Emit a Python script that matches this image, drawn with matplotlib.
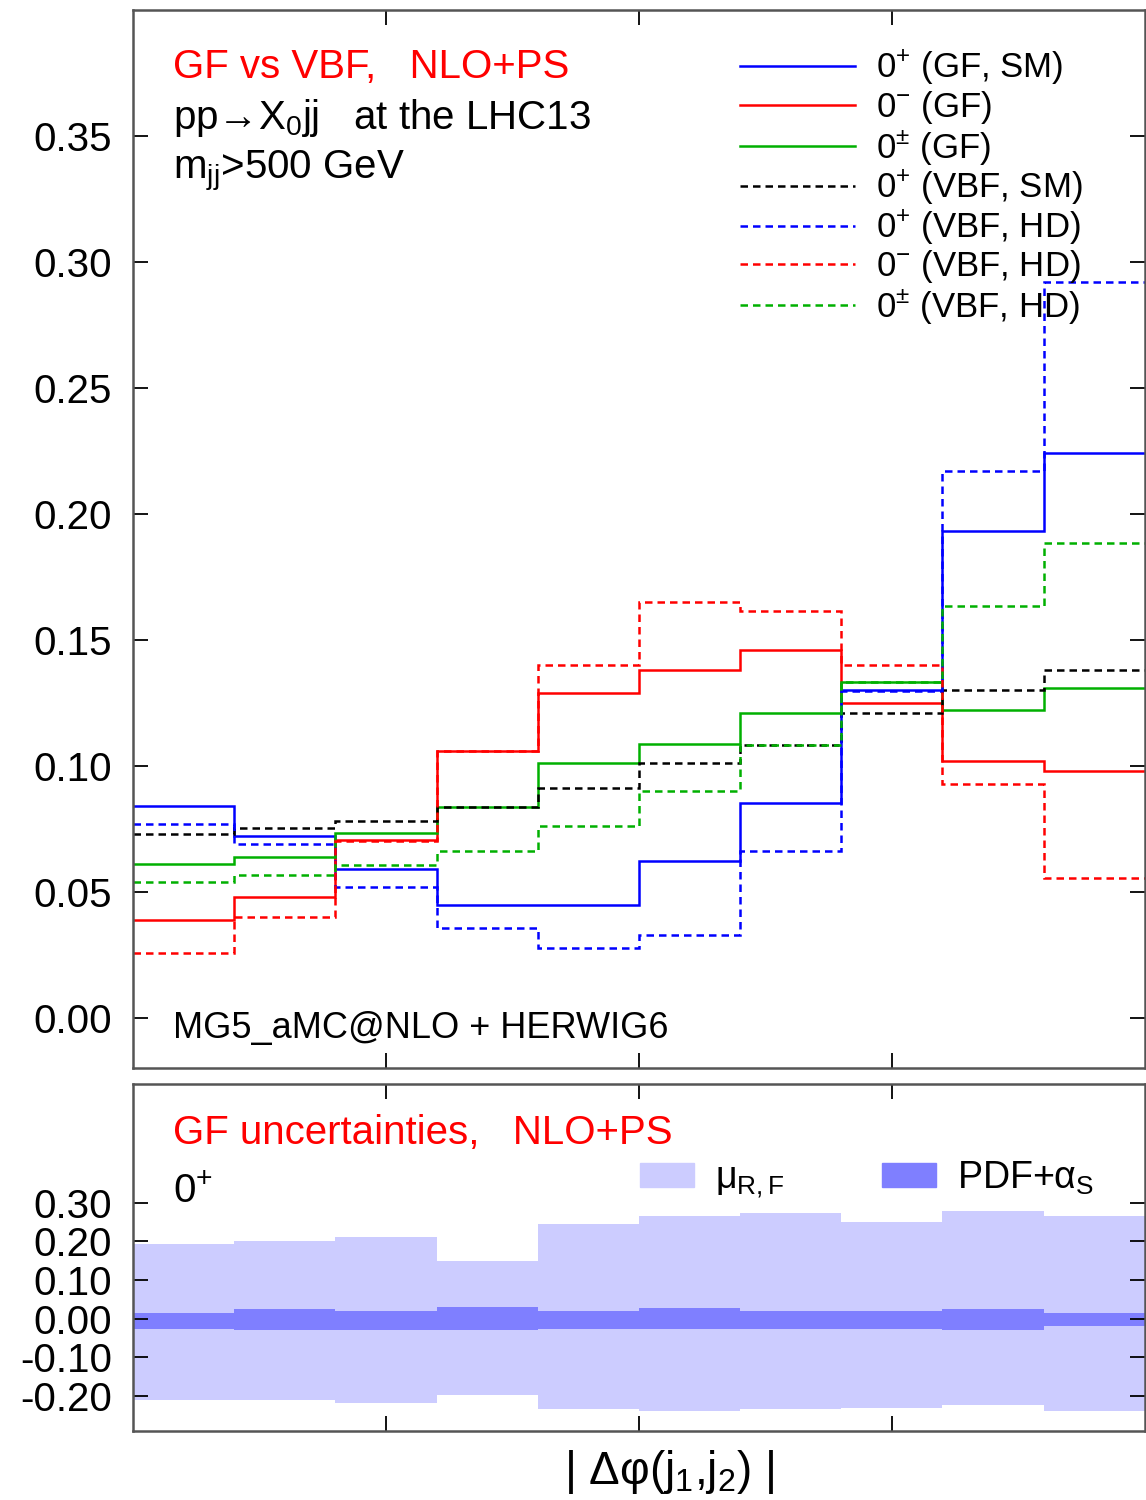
import numpy as np
import matplotlib
matplotlib.use("Agg")
import matplotlib.pyplot as plt
from matplotlib.lines import Line2D
from matplotlib.patches import Patch

plt.rcParams['font.family'] = ['Liberation Sans', 'DejaVu Sans']
plt.rcParams['mathtext.fontset'] = 'custom'
plt.rcParams['mathtext.rm'] = 'Liberation Sans'
plt.rcParams['mathtext.it'] = 'Liberation Sans:italic'
plt.rcParams['mathtext.bf'] = 'Liberation Sans:bold'

# 10 bins in |dphi(j1,j2)| from 0 to pi
edges = np.linspace(0, np.pi, 11)

# top panel: normalised distributions
gf_sm    = [0.084, 0.072, 0.059, 0.0445, 0.0445, 0.062, 0.085, 0.130, 0.193, 0.224]
gf_odd   = [0.0386, 0.048, 0.0704, 0.106, 0.129, 0.138, 0.146, 0.125, 0.102, 0.098]
gf_mix   = [0.061, 0.0636, 0.0731, 0.0837, 0.101, 0.1086, 0.121, 0.133, 0.122, 0.131]
vbf_sm   = [0.073, 0.0752, 0.078, 0.0835, 0.091, 0.101, 0.108, 0.121, 0.130, 0.138]
vbf_hd_p = [0.077, 0.069, 0.052, 0.0354, 0.0275, 0.0326, 0.066, 0.1297, 0.217, 0.292]
vbf_hd_m = [0.0255, 0.040, 0.070, 0.106, 0.140, 0.165, 0.1615, 0.140, 0.0927, 0.0553]
vbf_hd_x = [0.054, 0.0565, 0.0605, 0.066, 0.076, 0.090, 0.108, 0.1332, 0.1635, 0.1885]

# bottom panel: GF 0+ relative uncertainties
scale_up = [0.194, 0.201, 0.211, 0.148, 0.244, 0.265, 0.272, 0.250, 0.278, 0.265]
scale_dn = [-0.211, -0.211, -0.218, -0.198, -0.233, -0.239, -0.233, -0.231, -0.224, -0.239]
pdf_up   = [0.0155, 0.025, 0.020, 0.031, 0.020, 0.027, 0.020, 0.020, 0.025, 0.0155]
pdf_dn   = [-0.026, -0.030, -0.030, -0.030, -0.026, -0.026, -0.026, -0.026, -0.030, -0.019]

blue, red, green = '#0000ff', '#ff0000', '#00b000'
FS = 29

fig = plt.figure(figsize=(11.46, 15), dpi=100)
ax = fig.add_axes([0.116, 0.288, 0.883, 0.7055])
ax2 = fig.add_axes([0.116, 0.046, 0.883, 0.2313])

lw = 1.8
dash = (3, 2)
series = [
    (gf_sm, blue, '-', r'$0^{+}$ (GF, SM)'),
    (gf_odd, red, '-', r'$0^{-}$ (GF)'),
    (gf_mix, green, '-', r'$0^{\pm}$ (GF)'),
    (vbf_sm, 'black', '--', r'$0^{+}$ (VBF, SM)'),
    (vbf_hd_p, blue, '--', r'$0^{+}$ (VBF, HD)'),
    (vbf_hd_m, red, '--', r'$0^{-}$ (VBF, HD)'),
    (vbf_hd_x, green, '--', r'$0^{\pm}$ (VBF, HD)'),
]
handles = []
for vals, c, ls, lab in series:
    st = ax.stairs(vals, edges, baseline=None, color=c, linewidth=lw)
    if ls == '--':
        st.set_linestyle((0, dash))
    h = Line2D([], [], color=c, linewidth=lw,
               linestyle='-' if ls == '-' else (0, dash))
    handles.append((h, lab))

ax.legend([h for h, _ in handles], [l for _, l in handles], loc='upper left',
          bbox_to_anchor=(0.600, 0.963), frameon=False, fontsize=25,
          borderpad=0, borderaxespad=0,
          handlelength=3.3, handletextpad=0.6, labelspacing=0.05)

ax.set_xlim(0, np.pi)
ax.set_ylim(-0.02, 0.40)
ax.set_yticks(np.arange(0, 0.36, 0.05))
ax.set_yticklabels(['%.2f' % v for v in np.arange(0, 0.36, 0.05)])

ax.text(0.04, 0.946, 'GF vs VBF,   NLO+PS', color=red, fontsize=FS,
        transform=ax.transAxes, va='center')
ax.text(0.04, 0.898, r'pp→X$_0$jj   at the LHC13', fontsize=FS,
        transform=ax.transAxes, va='center')
ax.text(0.04, 0.848, r'm$_{\rm jj}$>500 GeV', fontsize=FS,
        transform=ax.transAxes, va='center')
ax.text(0.04, 0.037, 'MG5_aMC@NLO + HERWIG6', fontsize=26,
        transform=ax.transAxes, va='center')

# bottom panel bands
ax2.stairs(scale_up, edges, baseline=scale_dn, fill=True, color='#ccccff', linewidth=0)
ax2.stairs(pdf_up, edges, baseline=pdf_dn, fill=True, color='#7f7fff', linewidth=0)
ax2.set_xlim(0, np.pi)
ax2.set_ylim(-0.29, 0.606)
yt = np.arange(-0.2, 0.31, 0.1)
ax2.set_yticks(yt)
ax2.set_yticklabels(['%.2f' % v if abs(v) > 1e-9 else '0.00' for v in yt])

ax2.text(0.04, 0.86, 'GF uncertainties,   NLO+PS', color=red, fontsize=FS,
         transform=ax2.transAxes, va='center')
ax2.text(0.04, 0.69, r'$0^{+}$', fontsize=FS, transform=ax2.transAxes, va='center')
ax2.legend([Patch(color='#ccccff'), Patch(color='#7f7fff')],
           [r'μ$_{\rm R,F}$', r'PDF+α$_{\rm S}$'],
           loc='upper left', bbox_to_anchor=(0.501, 0.783), ncol=2,
           frameon=False, fontsize=27, handlelength=1.45, handleheight=0.6,
           borderpad=0, borderaxespad=0,
           columnspacing=2.6, handletextpad=0.55)
ax2.set_xlabel('| Δφ(j$_1$,j$_2$) |', fontsize=33, labelpad=8)
ax2.xaxis.set_label_coords(0.53, -0.05, transform=ax2.transAxes)
ax2.xaxis.label.set_va('top')

for a in (ax, ax2):
    a.set_xticks([np.pi / 4, np.pi / 2, 3 * np.pi / 4])
    a.set_xticklabels([])
    a.tick_params(direction='in', length=11, width=1.3, top=True, right=True,
                  labelsize=FS, pad=15)
    for s in a.spines.values():
        s.set_color('#555555')
        s.set_linewidth(1.8)

fig.savefig('out.png', dpi=100)
